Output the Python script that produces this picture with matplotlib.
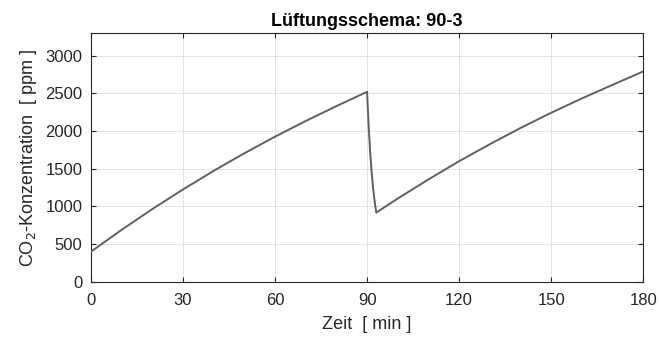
import matplotlib
matplotlib.use("Agg")
import matplotlib.pyplot as plt

# values
zeit = [0, 10, 20, 30, 40, 50, 60, 70, 80, 90,
        90.5, 91, 91.5, 92, 92.5, 93,
        100, 110, 120, 130, 140, 150, 160, 170, 180]
co2 = [400, 690, 965, 1225, 1472, 1705, 1925, 2133, 2330, 2520,
       2080, 1730, 1450, 1230, 1060, 918,
       1105, 1358, 1600, 1825, 2040, 2242, 2432, 2612, 2790]

xticks = [0, 30, 60, 90, 120, 150, 180]
yticks = [0, 500, 1000, 1500, 2000, 2500, 3000]

plt.rcParams['font.family'] = ['Liberation Sans', 'DejaVu Sans']
plt.rcParams['font.size'] = 12

fig = plt.figure(figsize=(6.59, 3.40), dpi=100)
ax = fig.add_axes([0.138, 0.171, 0.838, 0.732])

ax.plot(zeit, co2, color="#606060", lw=1.4, zorder=3)

ax.set_xlim(0, 180)
ax.set_ylim(0, 3300)
ax.set_xticks(xticks)
ax.set_yticks(yticks)
ax.grid(True, color="#e3e3e3", lw=0.7)
ax.set_axisbelow(True)
ax.tick_params(direction="in", length=3.5, width=0.8, color="#262626",
               top=True, right=True, labelcolor="#262626", labelsize=12)
ax.tick_params(axis="x", pad=8)
ax.tick_params(axis="y", pad=6)
for s in ax.spines.values():
    s.set_color("#262626")
    s.set_linewidth(0.8)

ax.set_title("Lüftungsschema: 90-3", fontweight="bold", fontsize=13, pad=5)
ax.set_xlabel("Zeit  [ min ]", fontsize=13, color="#262626", labelpad=6)
ax.set_ylabel("CO$_2$-Konzentration  [ ppm ]", fontsize=13, color="#262626", labelpad=5)

fig.savefig("out.png", dpi=100)
